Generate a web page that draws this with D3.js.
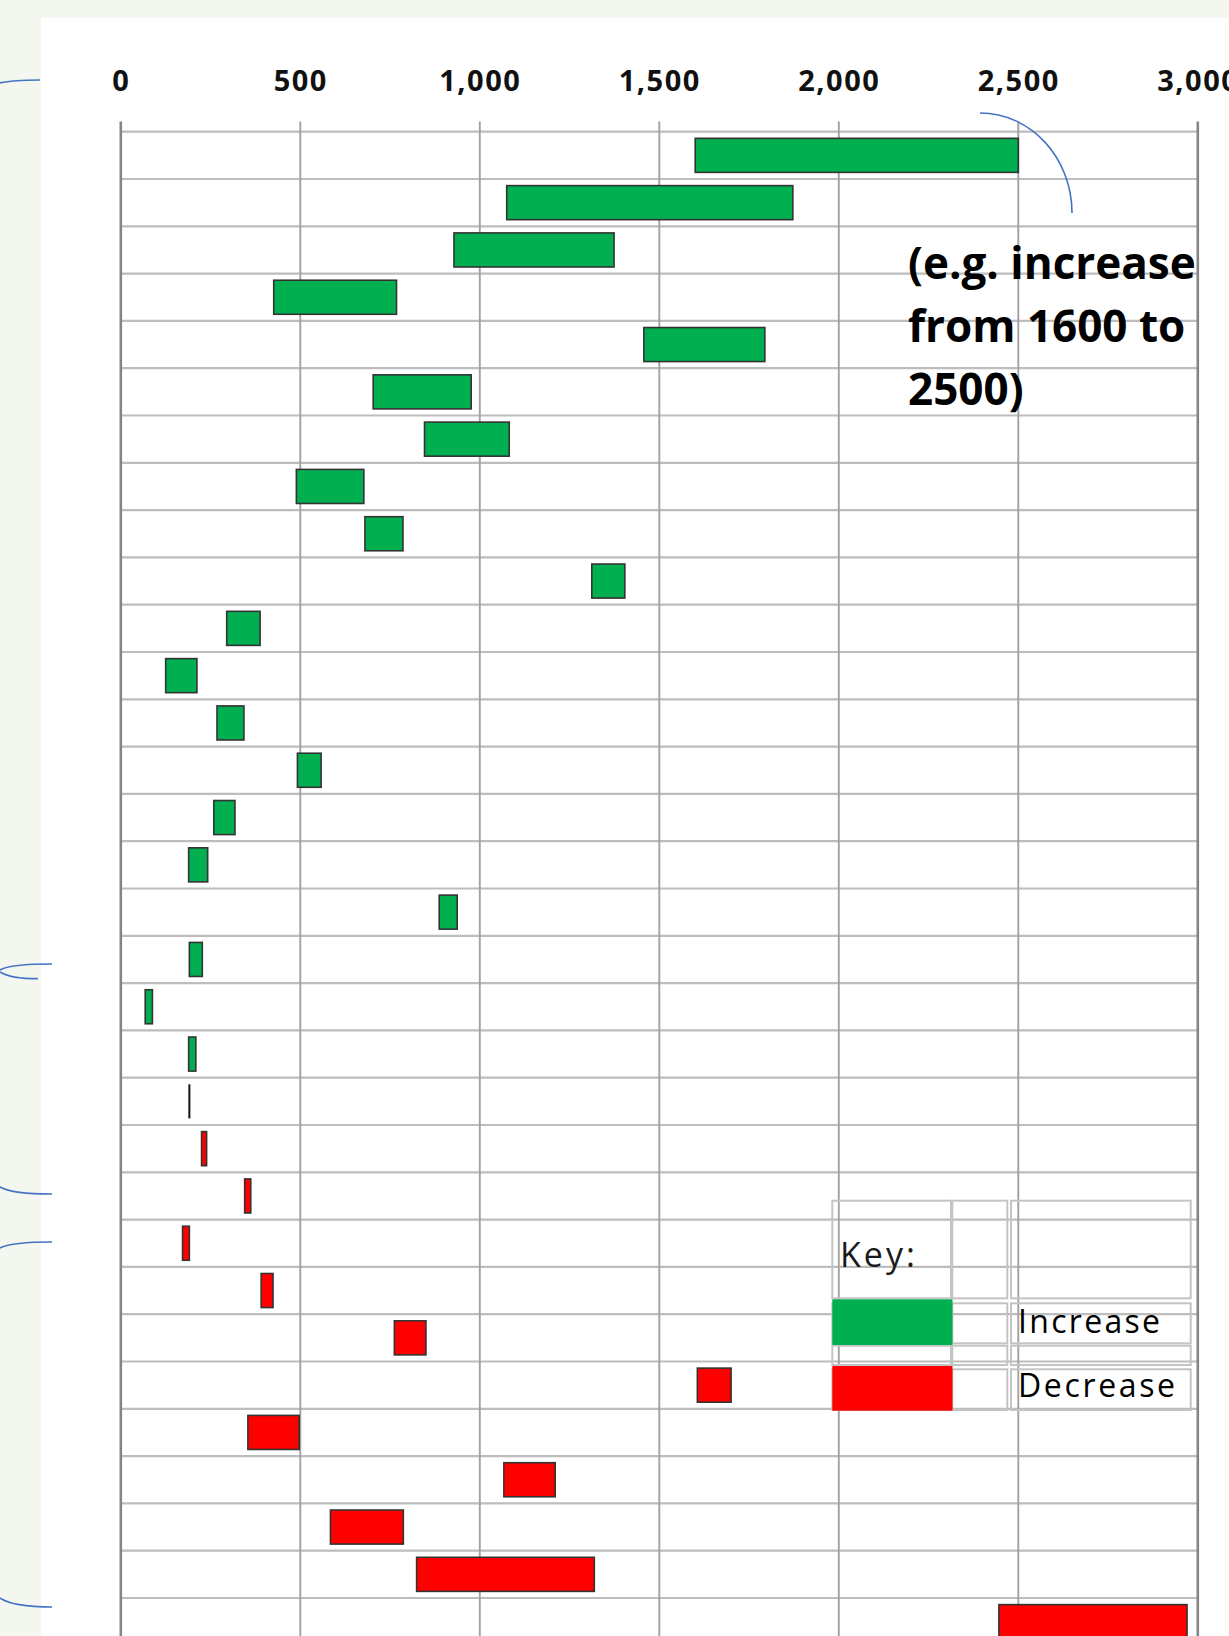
<!DOCTYPE html>
<html>
<head>
<meta charset="utf-8">
<script src="https://cdn.jsdelivr.net/npm/d3@7"></script>
<style>
  html, body { margin: 0; padding: 0; background: #f4f7ef; }
  svg { display: block; }
</style>
</head>
<body>
<svg id="chart" width="1229" height="1636"></svg>
<script>
// Row identifiers, top to bottom
const rowIds = ["01","02","03","04","05","06","07","08","09","10","11","12","13","14","15","16",
                "17","18","19","20","21","22","23","24","25","26","27","28","29","30","31","32"];

// Value at the start of each range
const before = [1600, 1075, 928, 426, 1457, 703, 846, 489, 680, 1312, 295, 125, 268, 492, 259, 189,
                887, 191, 68, 189, 191, 239, 362, 191, 424, 850, 1700, 497, 1210, 787, 1319, 2970];

// Value at the end of each range
const after  = [2500, 1872, 1374, 768, 1794, 976, 1082, 677, 786, 1404, 388, 212, 343, 558, 318, 242,
                937, 227, 88, 209, 191, 225, 345, 172, 391, 762, 1606, 354, 1067, 584, 824, 2446];

const tickValues = [0, 500, 1000, 1500, 2000, 2500, 3000];
const keyTitle = "Key:";
const keyLabels = ["Increase", "Decrease"];
const noteLines = ["(e.g. increase", "from 1600 to", "2500)"];

const rows = rowIds.map((id, i) => ({ id, from: before[i], to: after[i] }));

const W = 1229, H = 1636;
const GREEN = "#00b050", RED = "#ff0000", BLUE = "#4472c4";

const svg = d3.select("#chart");

// page backdrop and white sheet
svg.append("rect").attr("width", W).attr("height", H).attr("fill", "#f4f7ef");
svg.append("rect").attr("x", 41).attr("y", 18).attr("width", W - 41).attr("height", H - 18).attr("fill", "#ffffff");

// scales
const x = d3.scaleLinear().domain([0, 3000]).range([120.8, 1197.8]);
const rowTop = 131.7, rowStep = 47.3;
const y = d3.scaleBand().domain(rowIds)
  .range([rowTop, rowTop + rowIds.length * rowStep])
  .paddingInner(0.28).paddingOuter(0.14);

// horizontal row dividers
const rowLines = d3.range(rowIds.length + 1).map(i => y.range()[0] + i * y.step());
svg.append("g").selectAll("line").data(rowLines).join("line")
  .attr("x1", x(0)).attr("x2", x(3000))
  .attr("y1", d => d).attr("y2", d => d)
  .attr("stroke", "#bdbdbd").attr("stroke-width", 2.2);

// vertical gridlines
svg.append("g").selectAll("line").data(tickValues).join("line")
  .attr("x1", d => x(d)).attr("x2", d => x(d))
  .attr("y1", 121.5).attr("y2", H)
  .attr("stroke", d => (d === 0 || d === 3000) ? "#858585" : "#a2a2a2")
  .attr("stroke-width", d => (d === 0 || d === 3000) ? 2.6 : 1.9);

// tick labels along the top
const axis = d3.axisTop(x).tickValues(tickValues).tickFormat(d3.format(",")).tickSize(0).tickPadding(0);
const axisG = svg.append("g").attr("transform", "translate(0,91)").call(axis);
axisG.select(".domain").remove();
axisG.selectAll("text")
  .attr("font-family", "'Open Sans', sans-serif")
  .attr("font-weight", 700)
  .attr("font-size", 29)
  .attr("letter-spacing", "1.5px")
  .attr("fill", "#111");

// range bars
const barG = svg.append("g");
barG.selectAll("rect").data(rows.filter(d => d.from !== d.to)).join("rect")
  .attr("x", d => x(Math.min(d.from, d.to)))
  .attr("width", d => x(Math.max(d.from, d.to)) - x(Math.min(d.from, d.to)))
  .attr("y", d => y(d.id))
  .attr("height", y.bandwidth())
  .attr("fill", d => d.to > d.from ? GREEN : RED)
  .attr("stroke", "#333").attr("stroke-width", 1.6);
// unchanged rows: a single stroke
barG.selectAll("line").data(rows.filter(d => d.from === d.to)).join("line")
  .attr("x1", d => x(d.from)).attr("x2", d => x(d.from))
  .attr("y1", d => y(d.id)).attr("y2", d => y(d.id) + y.bandwidth())
  .attr("stroke", "#111").attr("stroke-width", 2);

// note pointing at the top bar
svg.append("path")
  .attr("d", "M980,113 C1031,113 1072,158 1072,213")
  .attr("fill", "none").attr("stroke", BLUE).attr("stroke-width", 1.6);
svg.append("g").selectAll("text").data(noteLines).join("text")
  .attr("x", 908).attr("y", (d, i) => 279 + i * 63)
  .attr("font-family", "'Open Sans', sans-serif")
  .attr("font-weight", 700).attr("font-size", 44)
  .attr("fill", "#000")
  .text(d => d);

// key table
const colA = [832.3, 951], colB = [952.3, 1007.3], colC = [1011, 1190.7];
const keyRows = [[1200.7, 1298.3], [1303.3, 1343.3], [1345.7, 1365], [1369.3, 1410]];
const cells = [];
keyRows.forEach(r => [colA, colB, colC].forEach(c => cells.push({ x0: c[0], x1: c[1], y0: r[0], y1: r[1] })));
const keyG = svg.append("g");
keyG.selectAll("rect.cell").data(cells).join("rect").attr("class", "cell")
  .attr("x", d => d.x0).attr("y", d => d.y0)
  .attr("width", d => d.x1 - d.x0).attr("height", d => d.y1 - d.y0)
  .attr("fill", "none").attr("stroke", "#c4c4c4").attr("stroke-width", 2);
keyG.selectAll("rect.swatch").data([
  { c: GREEN, y0: 1299.3, y1: 1345 },
  { c: RED, y0: 1366, y1: 1410.7 }
]).join("rect").attr("class", "swatch")
  .attr("x", colA[0]).attr("width", colA[1] - colA[0] + 1.5)
  .attr("y", d => d.y0).attr("height", d => d.y1 - d.y0)
  .attr("fill", d => d.c);
keyG.append("text")
  .attr("x", 840).attr("y", 1267)
  .attr("font-family", "'Open Sans', sans-serif").attr("font-size", 34)
  .attr("fill", "#1a1a1a")
  .attr("textLength", 75).attr("lengthAdjust", "spacing")
  .text(keyTitle);
keyG.selectAll("text.lab").data(keyLabels).join("text").attr("class", "lab")
  .attr("x", 1018).attr("y", (d, i) => i === 0 ? 1332.7 : 1396.7)
  .attr("font-family", "'Open Sans', sans-serif").attr("font-size", 32)
  .attr("font-weight", 500)
  .attr("fill", "#000")
  .attr("textLength", (d, i) => i === 0 ? 142 : 157).attr("lengthAdjust", "spacing")
  .text(d => d);

// bracket strokes in the left margin
const marginCurves = [
  "M0,83 Q12,80 40,80",
  "M0,970 Q10,964 52,964",
  "M0,972 Q10,978.7 38,978.7",
  "M0,1187 Q12,1194 52,1194",
  "M0,1248 Q12,1242 52,1242",
  "M0,1598 Q12,1607 52,1607"
];
svg.append("g").selectAll("path").data(marginCurves).join("path")
  .attr("d", d => d).attr("fill", "none")
  .attr("stroke", BLUE).attr("stroke-width", 1.7);
</script>
</body>
</html>
